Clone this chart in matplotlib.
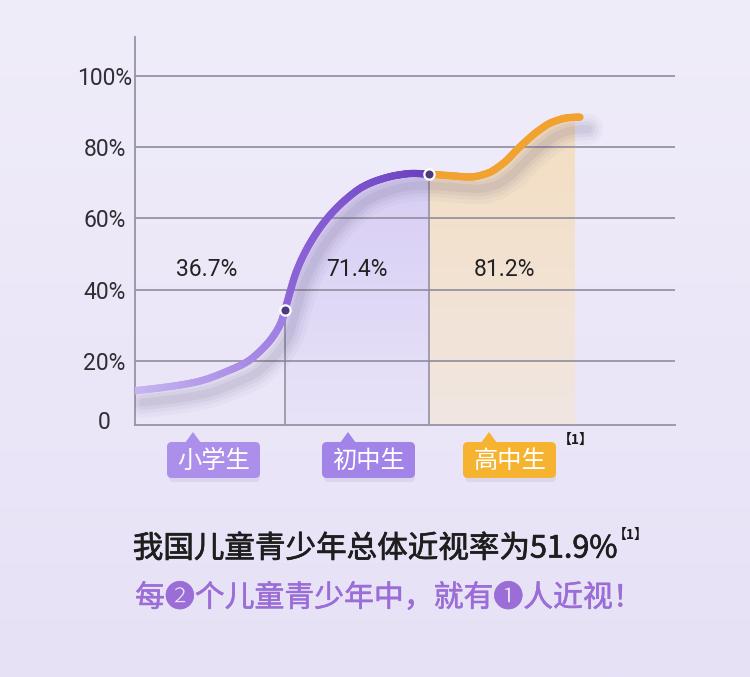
import numpy as np
import matplotlib as mpl
import matplotlib.pyplot as plt
import matplotlib.transforms as mtrans
import matplotlib.patheffects as pe
from matplotlib.collections import LineCollection
from matplotlib.patches import FancyBboxPatch, Polygon
from matplotlib.colors import LinearSegmentedColormap, to_rgb

plt.rcParams['font.family'] = ['Noto Sans CJK SC', 'DejaVu Sans']

# ---- data ----
stages = ['小学生', '初中生', '高中生']
stage_rates = ['36.7%', '71.4%', '81.2%']
tick_vals = [0, 20, 40, 60, 80, 100]
tick_labels = ['0', '20%', '40%', '60%', '80%', '100%']

# curve through the picture (x = horizontal progress, y = percent)
curve_x = [0, 28, 62, 95, 112, 128, 138, 147, 150, 162, 178, 195, 212, 228,
           245, 262, 278, 294, 318, 335, 352, 368, 385, 402, 418, 435, 445]
curve_y = [11.6, 12.5, 14.1, 17.4, 19.7, 23.5, 26.8, 31.4, 34.3, 45.5, 54.4,
           60.9, 65.6, 68.9, 70.9, 72.1, 72.6, 72.4, 71.9, 71.6, 72.6, 75.4,
           80.1, 84.3, 87.1, 88.3, 88.4]
stage_ends = [150, 294, 440]

headline = '我国儿童青少年总体近视率为51.9%'
subline = '每❷个儿童青少年中，就有❶人近视！'
note = '【1】'


def smooth(x, y, n=12):
    # monotone cubic (Fritsch-Carlson) through the read points
    x = np.asarray(x, float)
    y = np.asarray(y, float)
    h = np.diff(x)
    d = np.diff(y) / h
    m = np.zeros_like(y)
    m[0], m[-1] = d[0], d[-1]
    for i in range(1, len(x) - 1):
        if d[i - 1] * d[i] <= 0:
            m[i] = 0
        else:
            w1 = 2 * h[i] + h[i - 1]
            w2 = h[i] + 2 * h[i - 1]
            m[i] = (w1 + w2) / (w1 / d[i - 1] + w2 / d[i])
    ox, oy = [], []
    t = np.linspace(0, 1, n, endpoint=False)
    for i in range(len(x) - 1):
        h00 = 2 * t ** 3 - 3 * t ** 2 + 1
        h10 = t ** 3 - 2 * t ** 2 + t
        h01 = -2 * t ** 3 + 3 * t ** 2
        h11 = t ** 3 - t ** 2
        ox.extend(x[i] + t * h[i])
        oy.extend(h00 * y[i] + h10 * h[i] * m[i] + h01 * y[i + 1] + h11 * h[i] * m[i + 1])
    ox.append(x[-1])
    oy.append(y[-1])
    return np.array(ox), np.array(oy)


sx, sy = smooth(curve_x, curve_y)
# the drawn baseline sits a little above where 0 would fall on the grid spacing
ymin, ymax = 1.96, 110.9

fig = plt.figure(figsize=(7.5, 6.77), dpi=100)

# background gradient
bg = fig.add_axes([0, 0, 1, 1], zorder=-5)
bg_cmap = LinearSegmentedColormap.from_list('bg', ['#F0EDFA', '#E7E1F6'])
bg.imshow(np.linspace(0, 1, 256)[:, None], aspect='auto', cmap=bg_cmap,
          extent=[0, 1, 0, 1], origin='upper')
bg.axis('off')

ax = fig.add_axes([0.18, 0.3722, 0.72, 0.5731])
ax.patch.set_alpha(0)


def grad_fill(x0, x1, top, bottom, mask):
    cm = LinearSegmentedColormap.from_list('f', [bottom, top])
    im = ax.imshow(np.linspace(0, 1, 256)[:, None], aspect='auto', cmap=cm,
                   extent=[x0, x1, ymin, 90], origin='lower', zorder=1)
    xs = sx[mask]
    ys = sy[mask]
    poly = Polygon(np.column_stack([np.r_[xs, xs[-1], xs[0]],
                                    np.r_[ys, ymin, ymin]]),
                   closed=True, facecolor='none', edgecolor='none')
    ax.add_patch(poly)
    im.set_clip_path(poly)


grad_fill(stage_ends[0], stage_ends[1], '#D3C8F3', '#E8E3F8',
          (sx >= stage_ends[0]) & (sx <= stage_ends[1]))
grad_fill(stage_ends[1], stage_ends[2], '#F4DEC0', '#F0E6E2',
          (sx >= stage_ends[1]) & (sx <= stage_ends[2]))

# grid and axes
ax.hlines(tick_vals[1:], 0, 540, color='#9793A5', lw=1.3, zorder=2)
ax.vlines(stage_ends[:2], ymin, [curve_y[curve_x.index(v)] for v in stage_ends[:2]],
          color='#8E8A9C', lw=1.1, zorder=2)
for s in ['top', 'right']:
    ax.spines[s].set_visible(False)
for s in ['left', 'bottom']:
    ax.spines[s].set_color('#9793A5')
    ax.spines[s].set_linewidth(1.3)
ax.set_xticks([])
ax.set_yticks([max(v, ymin) for v in tick_vals])
ax.set_yticklabels(tick_labels, fontsize=16.5, color='#2E2E33', family='Roboto',
                   ha='center')
ax.tick_params(axis='y', length=0, pad=22)
# the "0" label sits a touch above the baseline in the picture
zero_lbl = ax.get_yticklabels()[0]
zero_lbl.set_transform(zero_lbl.get_transform()
                       + mtrans.ScaledTranslation(0, 5 / 100, fig.dpi_scale_trans))

# soft shadow under the curve
shadow = mtrans.offset_copy(ax.transData, fig=fig, x=8, y=-12, units='dots')
for lw, a in [(22, 0.035), (16, 0.045), (11, 0.055), (6, 0.07)]:
    ax.plot(sx, sy, color='#4E4470', lw=lw, alpha=a, transform=shadow,
            solid_capstyle='round', zorder=3)

# coloured curve
def seg_color(x):
    if x <= stage_ends[0]:
        f = x / stage_ends[0]
        a, b = to_rgb('#C8B6F0'), to_rgb('#9E7EE3')
    elif x <= stage_ends[1]:
        f = (x - stage_ends[0]) / (stage_ends[1] - stage_ends[0])
        a, b = to_rgb('#8E66D9'), to_rgb('#6B40C0')
    else:
        return to_rgb('#F2A22E')
    return tuple(np.array(a) * (1 - f) + np.array(b) * f)


pts = np.column_stack([sx, sy])
segs = np.stack([pts[:-1], pts[1:]], axis=1)
cols = [seg_color(0.5 * (sx[i] + sx[i + 1])) for i in range(len(sx) - 1)]
lc = LineCollection(segs, colors=cols, linewidths=5.2, zorder=4)
lc.set_capstyle('round')
ax.add_collection(lc)

ax.scatter(stage_ends[:2], [curve_y[curve_x.index(v)] for v in stage_ends[:2]],
           s=55, color='#4A3B80', edgecolor='white', linewidth=1.6, zorder=5)

# rates inside each stage
rate_x = [72, 222, 370]
for xx, t in zip(rate_x, stage_rates):
    ax.text(xx, 45.5, t, ha='center', va='center', fontsize=16.5,
            color='#222222', family='Roboto', zorder=6)

ax.set_xlim(0, 540)
ax.set_ylim(ymin, ymax)

# overlay in pixel coordinates for the tags and captions
ov = fig.add_axes([0, 0, 1, 1], zorder=5)
ov.set_xlim(0, 750)
ov.set_ylim(677, 0)
ov.axis('off')
ov.patch.set_alpha(0)

tag_left = [167, 322, 463]
tag_tip = [193, 348, 489]
tag_cols = ['#AC8EEB', '#A283E8', '#F5B330']
for name, x0, tip, c in zip(stages, tag_left, tag_tip, tag_cols):
    ov.add_patch(FancyBboxPatch((x0 + 2, 446), 91, 36,
                                boxstyle='round,pad=0,rounding_size=5',
                                facecolor='#7A6AA8', edgecolor='none', alpha=0.12))
    ov.add_patch(FancyBboxPatch((x0, 442), 93, 36,
                                boxstyle='round,pad=0,rounding_size=5',
                                facecolor=c, edgecolor='none'))
    ov.add_patch(Polygon([(tip - 8, 443), (tip, 432), (tip + 8, 443)],
                         closed=True, facecolor=c, edgecolor='none'))
    ov.text(x0 + 46.5, 461, name, ha='center', va='center', fontsize=17.5,
            color='white')
ov.text(558, 440, note, ha='left', va='center', fontsize=10,
        fontweight='bold', color='#1A1A1A')

# captions: regular weight thickened a little to look like medium
ov.text(617, 549, headline, ha='right', va='center', fontsize=22,
        color='#1E1E1E',
        path_effects=[pe.withStroke(linewidth=0.5, foreground='#1E1E1E')])
ov.text(613, 535, note, ha='left', va='center', fontsize=10,
        fontweight='bold', color='#1A1A1A')
ov.text(389, 598, subline, ha='center', va='center', fontsize=21.5,
        color='#9B6DD7',
        path_effects=[pe.withStroke(linewidth=0.4, foreground='#9B6DD7')])

plt.savefig('out.png', dpi=100)
